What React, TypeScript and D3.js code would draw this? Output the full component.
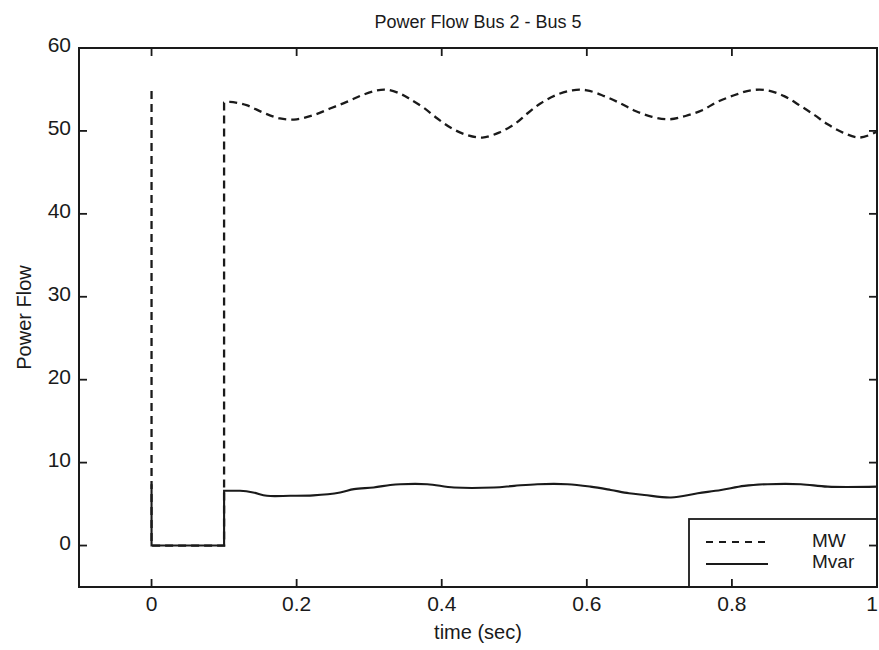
import React from "react";
import * as d3 from "d3";

const mwTime = [0, 0, 0.1, 0.1, 0.108, 0.131, 0.154, 0.177, 0.2, 0.223, 0.246, 0.269, 0.29, 0.311, 0.326, 0.345, 0.357, 0.375, 0.394, 0.414, 0.435, 0.456, 0.479, 0.5, 0.518, 0.536, 0.557, 0.58, 0.6, 0.624, 0.647, 0.667, 0.69, 0.713, 0.736, 0.759, 0.78, 0.803, 0.826, 0.849, 0.872, 0.893, 0.914, 0.932, 0.953, 0.976, 1.0];
const mwValue = [54.8, 0, 0, 53.4, 53.5, 53.1, 52.2, 51.5, 51.4, 51.9, 52.7, 53.5, 54.3, 54.9, 54.95, 54.4, 53.8, 52.8, 51.5, 50.3, 49.5, 49.2, 49.8, 50.8, 52.1, 53.3, 54.3, 54.9, 54.9, 54.2, 53.3, 52.4, 51.7, 51.4, 51.8, 52.5, 53.5, 54.3, 54.9, 54.9, 54.2, 53.1, 51.9, 50.8, 49.8, 49.2, 49.9];

const mvarTime = [0, 0, 0.1, 0.1, 0.104, 0.122, 0.14, 0.159, 0.191, 0.223, 0.26, 0.279, 0.306, 0.329, 0.343, 0.38, 0.417, 0.472, 0.5, 0.532, 0.573, 0.605, 0.633, 0.658, 0.679, 0.716, 0.753, 0.785, 0.817, 0.849, 0.895, 0.932, 1.0];
const mvarValue = [7.4, 0, 0, 6.6, 6.6, 6.6, 6.4, 6.0, 6.0, 6.05, 6.4, 6.8, 7.0, 7.3, 7.4, 7.4, 7.0, 7.0, 7.2, 7.4, 7.4, 7.1, 6.7, 6.3, 6.1, 5.8, 6.3, 6.7, 7.2, 7.4, 7.4, 7.1, 7.1];

const xTicks = [0, 0.2, 0.4, 0.6, 0.8, 1];
const yTicks = [0, 10, 20, 30, 40, 50, 60];
const legendLabels = ["MW", "Mvar"];

const W = 879;
const H = 650;
const left = 79;
const right = 877;
const top = 48;
const bottom = 587;
const ink = "#1a1a1a";
const font = "'Liberation Sans', Arial, sans-serif";

export default function App() {
  const x = d3.scaleLinear().domain([-0.1, 1]).range([left, right]);
  const y = d3.scaleLinear().domain([-5, 60]).range([bottom, top]);
  const stepLine = d3
    .line<[number, number]>()
    .x((d) => x(d[0]))
    .y((d) => y(d[1]))
    .curve(d3.curveLinear);
  const smoothLine = d3
    .line<[number, number]>()
    .x((d) => x(d[0]))
    .y((d) => y(d[1]))
    .curve(d3.curveCatmullRom.alpha(0.5));
  const pathOf = (pts: [number, number][]) =>
    (stepLine(pts.slice(0, 4)) || "") + " " + (smoothLine(pts.slice(3)) || "").replace(/^M[^C]*?(?=C)/, "");
  const mwPts = mwTime.map((t, i) => [t, mwValue[i]] as [number, number]);
  const mvarPts = mvarTime.map((t, i) => [t, mvarValue[i]] as [number, number]);
  const tl = 8;

  return (
    <svg
      width={W}
      height={H}
      style={{ position: "absolute", left: 0, top: 0, background: "#fff" }}
      fontFamily={font}
    >
      <rect x={0} y={0} width={W} height={H} fill="#fff" />
      {/* data */}
      <path d={pathOf(mwPts)} fill="none" stroke={ink} strokeWidth={2.3} strokeDasharray="8,5" />
      <path d={pathOf(mvarPts)} fill="none" stroke={ink} strokeWidth={2.1} />

      {/* legend */}
      <rect x={689} y={519} width={right - 689} height={bottom - 519} fill="#fff" stroke={ink} strokeWidth={1.8} />
      <line x1={706} x2={767} y1={542} y2={542} stroke={ink} strokeWidth={1.8} strokeDasharray="7,6" />
      <line x1={706} x2={768} y1={564} y2={564} stroke={ink} strokeWidth={1.8} />
      {legendLabels.map((l, i) => (
        <text key={l} x={812} y={547 + i * 21} fontSize={19} fill={ink}>
          {l}
        </text>
      ))}

      {/* axes box */}
      <rect x={left} y={top} width={right - left} height={bottom - top} fill="none" stroke={ink} strokeWidth={2} />
      {xTicks.map((t) => (
        <g key={"x" + t}>
          <line x1={x(t)} x2={x(t)} y1={bottom} y2={bottom - tl} stroke={ink} strokeWidth={1.8} />
          <line x1={x(t)} x2={x(t)} y1={top} y2={top + tl} stroke={ink} strokeWidth={1.8} />
          <text
            x={t === 1 ? 878 : x(t)}
            y={611}
            textAnchor={t === 1 ? "end" : "middle"}
            fontSize={21}
            fill={ink}
          >
            {String(t)}
          </text>
        </g>
      ))}
      {yTicks.map((v) => (
        <g key={"y" + v}>
          <line x1={left} x2={left + tl} y1={y(v)} y2={y(v)} stroke={ink} strokeWidth={1.8} />
          <line x1={right} x2={right - tl} y1={y(v)} y2={y(v)} stroke={ink} strokeWidth={1.8} />
          <text x={71} y={y(v) + 4} textAnchor="end" fontSize={21} fill={ink}>
            {String(v)}
          </text>
        </g>
      ))}

      {/* labels */}
      <text x={(left + right) / 2} y={28} textAnchor="middle" fontSize={18} fill={ink}>
        Power Flow Bus 2 - Bus 5
      </text>
      <text x={(left + right) / 2} y={639} textAnchor="middle" fontSize={20} fill={ink}>
        time (sec)
      </text>
      <text
        transform={`translate(31, ${(top + bottom) / 2}) rotate(-90)`}
        textAnchor="middle"
        fontSize={20}
        fill={ink}
      >
        Power Flow
      </text>
    </svg>
  );
}
